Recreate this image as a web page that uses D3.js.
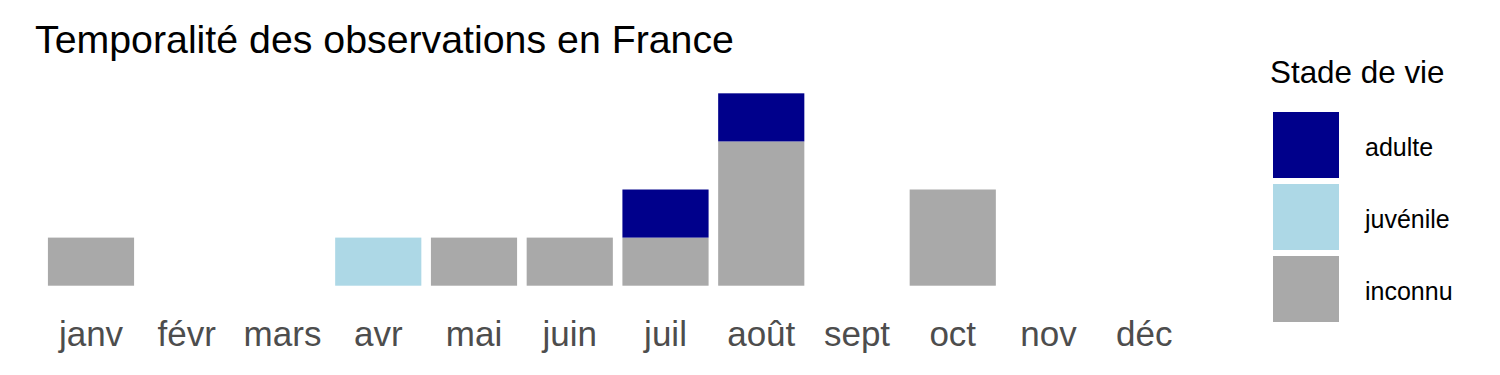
<!DOCTYPE html>
<html>
<head>
<meta charset="utf-8">
<script src="https://cdn.jsdelivr.net/npm/d3@7"></script>
<style>
  html, body { margin: 0; padding: 0; background: #fff; }
  svg text { font-family: "Liberation Sans", Arial, sans-serif; }
</style>
</head>
<body>
<svg id="chart" width="1500" height="375"></svg>
<script>
const months = ["janv","févr","mars","avr","mai","juin","juil","août","sept","oct","nov","déc"];
const stages = ["adulte","juvénile","inconnu"];
const adulte   = [0,0,0,0,0,0,1,1,0,0,0,0];
const juvenile = [0,0,0,1,0,0,0,0,0,0,0,0];
const inconnu  = [1,0,0,0,1,1,1,3,0,2,0,0];
const stageColors = ["#00008B","#ADD8E6","#A9A9A9"];
const titleText = "Temporalité des observations en France";
const legendTitle = "Stade de vie";

const svg = d3.select("#chart");

const rows = months.map((m, i) => ({month: m, "adulte": adulte[i], "juvénile": juvenile[i], "inconnu": inconnu[i]}));
const stack = d3.stack().keys(["inconnu","juvénile","adulte"]);
const series = stack(rows);

const color = d3.scaleOrdinal().domain(stages).range(stageColors);

const x = d3.scaleBand().domain(months).range([33.55, 1201.7]).paddingInner(0.1).paddingOuter(0.15);
const y = d3.scaleLinear().domain([0, 4.2]).range([285.7, 83.7]);

svg.append("g").selectAll("g").data(series).join("g")
  .attr("fill", d => color(d.key))
  .selectAll("rect").data(d => d.filter(v => v[1] - v[0] > 0)).join("rect")
  .attr("x", d => x(d.data.month))
  .attr("width", x.bandwidth())
  .attr("y", d => y(d[1]))
  .attr("height", d => y(d[0]) - y(d[1]));

const xAxis = svg.append("g").attr("transform", "translate(0,285.7)")
  .call(d3.axisBottom(x).tickSize(0).tickPadding(0));
xAxis.select(".domain").remove();
xAxis.selectAll("text")
  .attr("dy", null)
  .attr("y", 60.3)
  .attr("fill", "#4D4D4D")
  .style("font-size", "35px")
  .style("font-family", "'Liberation Sans', Arial, sans-serif");

svg.append("text").attr("x", 35).attr("y", 53)
  .attr("fill", "#000").style("font-size", "39.3px").text(titleText);

const lg = svg.append("g");
lg.append("text").attr("x", 1270).attr("y", 83)
  .attr("fill", "#000").style("font-size", "31.4px").text(legendTitle);
const keyY = d3.scaleBand().domain(stages).range([112, 322]).paddingInner(0.0833).paddingOuter(0);
const items = lg.selectAll("g.item").data(stages).join("g").attr("class", "item");
items.append("rect")
  .attr("x", 1273).attr("y", d => keyY(d))
  .attr("width", keyY.bandwidth()).attr("height", keyY.bandwidth())
  .attr("fill", d => color(d));
items.append("text")
  .attr("x", 1365).attr("y", d => keyY(d) + keyY.bandwidth() / 2 + 11)
  .attr("fill", "#000").style("font-size", "25px").text(d => d);
</script>
</body>
</html>
